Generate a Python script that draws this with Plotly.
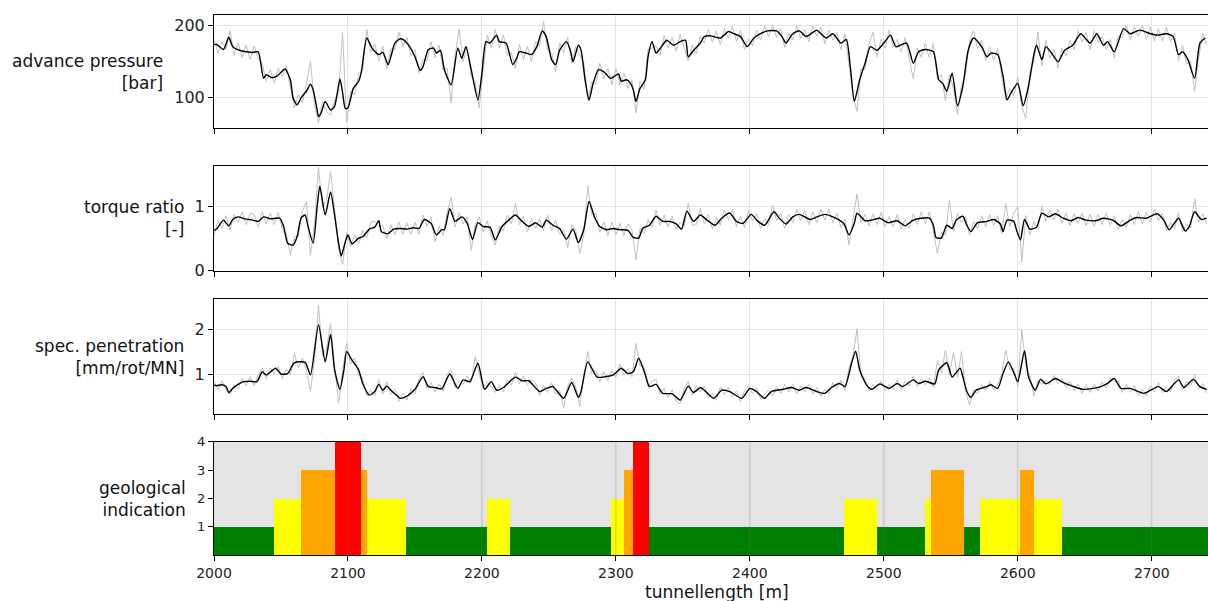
import plotly.graph_objects as go
from plotly.subplots import make_subplots

W, H = 1208, 601

# ---------------- data ----------------
# smoothed (black) curves: (tunnellength, value)
pressure_smooth = [(2000,173),(2002,173),(2007,166),(2011,183),(2014,170),(2019,165),(2024,163),(2029,162),(2033,163),
    (2037,126),(2039,131),(2043,127),(2047,129),(2053,139),(2057,124),(2059,99),(2062,89),(2065,99),(2068,106),(2069,108),
    (2072,118),(2074,110),(2077,82),(2078,73),(2080,78),(2083,94),(2087,82),(2090,87),(2094,125),(2096,106),(2098,84),
    (2100,85),(2104,112),(2108,122),(2110,135),(2114,182),(2118,168),(2123,159),(2126,162),(2130,145),(2135,175),(2139,181),
    (2141,180),(2146,170),(2150,156),(2154,137),(2156,142),(2160,166),(2164,168),(2166,161),(2169,165),(2172,138),(2177,117),
    (2182,168),(2185,154),(2188,170),(2192,138),(2197,96),(2200,133),(2203,177),(2206,175),(2211,186),(2213,177),(2218,175),
    (2223,145),(2226,154),(2228,163),(2233,161),(2237,159),(2241,170),(2245,192),(2248,184),(2252,152),(2255,145),(2258,165),
    (2263,177),(2266,165),(2268,149),(2272,172),(2274,165),(2277,124),(2280,96),(2283,119),(2287,138),(2291,135),(2296,126),
    (2299,129),(2302,132),(2304,122),(2308,124),(2311,119),(2313,110),(2315,94),(2318,112),(2322,124),(2324,156),(2327,177),
    (2330,161),(2334,170),(2338,179),(2343,172),(2348,177),(2352,179),(2354,156),(2358,165),(2363,175),(2366,184),(2371,185),
    (2378,182),(2384,191),(2388,188),(2393,184),(2398,170),(2403,182),(2408,188),(2413,192),(2420,192),(2424,184),(2427,175),
    (2432,188),(2437,192),(2442,184),(2450,193),(2453,188),(2457,182),(2462,188),(2468,175),(2472,180),(2475,142),(2478,94),
    (2482,124),(2486,147),(2490,170),(2495,165),(2500,175),(2505,186),(2509,170),(2517,175),(2522,147),(2526,163),(2531,166),
    (2537,163),(2541,124),(2544,119),(2547,108),(2551,133),(2555,88),(2559,115),(2563,165),(2567,182),(2573,170),(2577,156),
    (2580,161),(2585,159),(2589,129),(2592,96),(2595,106),(2600,119),(2604,88),(2608,115),(2612,159),(2614,172),(2618,152),
    (2621,170),(2626,159),(2630,149),(2635,165),(2641,172),(2647,188),(2654,175),(2659,188),(2664,172),(2667,177),(2672,163),
    (2679,195),(2684,188),(2691,193),(2699,188),(2704,186),(2711,188),(2716,184),(2720,159),(2723,163),(2727,152),(2732,126),
    (2736,175),(2740,182)]

torque_smooth = [(2000,0.63),(2002,0.65),(2007,0.79),(2011,0.70),(2014,0.80),(2018,0.84),(2023,0.81),(2029,0.79),(2033,0.77),
    (2037,0.84),(2042,0.81),(2049,0.82),(2052,0.69),(2055,0.43),(2059,0.40),(2062,0.53),(2065,0.82),(2068,0.87),(2070,0.71),
    (2074,0.43),(2077,1.00),(2079,1.32),(2083,0.87),(2087,1.23),(2090,0.87),(2093,0.43),(2095,0.23),(2098,0.45),(2100,0.56),
    (2103,0.42),(2108,0.51),(2111,0.53),(2116,0.65),(2120,0.68),(2123,0.78),(2125,0.61),(2130,0.58),(2134,0.65),(2139,0.66),
    (2144,0.65),(2149,0.67),(2153,0.66),(2157,0.80),(2162,0.74),(2166,0.56),(2170,0.64),(2172,0.64),(2176,0.97),(2180,0.77),
    (2185,0.84),(2189,0.74),(2193,0.49),(2197,0.75),(2201,0.69),(2206,0.68),(2210,0.48),(2215,0.69),(2220,0.79),(2225,0.87),
    (2230,0.77),(2235,0.69),(2240,0.75),(2245,0.68),(2248,0.79),(2253,0.71),(2258,0.66),(2263,0.49),(2268,0.65),(2272,0.44),
    (2276,0.64),(2280,1.08),(2284,0.84),(2288,0.69),(2293,0.64),(2298,0.66),(2303,0.64),(2309,0.63),(2313,0.52),(2317,0.51),
    (2320,0.66),(2325,0.71),(2330,0.85),(2335,0.77),(2340,0.77),(2345,0.73),(2349,0.65),(2353,0.93),(2358,0.77),(2363,0.87),
    (2368,0.79),(2374,0.71),(2379,0.82),(2385,0.90),(2390,0.77),(2395,0.74),(2401,0.88),(2406,0.77),(2411,0.71),(2418,0.92),
    (2422,0.82),(2427,0.73),(2432,0.84),(2437,0.88),(2445,0.80),(2450,0.84),(2456,0.88),(2462,0.84),(2470,0.74),(2474,0.56),
    (2478,0.74),(2480,0.90),(2486,0.78),(2491,0.79),(2497,0.82),(2503,0.75),(2510,0.78),(2516,0.70),(2522,0.79),(2528,0.82),
    (2534,0.82),(2537,0.71),(2539,0.52),(2543,0.51),(2547,0.71),(2551,0.66),(2554,0.79),(2559,0.85),(2562,0.71),(2565,0.61),
    (2570,0.75),(2577,0.77),(2582,0.80),(2587,0.73),(2589,0.61),(2592,0.79),(2597,0.77),(2599,0.64),(2602,0.48),(2605,0.80),
    (2609,0.65),(2614,0.68),(2618,0.90),(2623,0.84),(2628,0.89),(2634,0.82),(2640,0.78),(2645,0.83),(2651,0.79),(2658,0.78),
    (2664,0.82),(2671,0.79),(2677,0.70),(2684,0.79),(2689,0.83),(2696,0.82),(2704,0.89),(2709,0.79),(2713,0.64),(2720,0.82),
    (2725,0.62),(2728,0.69),(2732,0.92),(2737,0.80),(2741,0.82)]

penetration_smooth = [(2000,0.75),(2002,0.74),(2006,0.76),(2009,0.72),(2011,0.59),(2014,0.68),(2018,0.77),(2022,0.83),
    (2027,0.84),(2032,0.83),(2036,1.05),(2039,0.98),(2046,1.13),(2050,1.00),(2055,1.01),(2060,1.25),(2068,1.26),(2072,0.98),
    (2078,2.10),(2083,1.27),(2087,1.88),(2090,1.09),(2094,0.66),(2097,1.09),(2099,1.50),(2103,1.31),(2108,1.09),(2111,0.79),
    (2116,0.53),(2120,0.61),(2123,0.77),(2126,0.64),(2129,0.73),(2133,0.61),(2137,0.51),(2139,0.46),(2144,0.51),(2150,0.66),
    (2156,0.94),(2160,0.72),(2165,0.70),(2170,0.67),(2176,1.00),(2182,0.68),(2186,0.87),(2191,0.83),(2197,1.24),(2202,0.66),
    (2207,0.83),(2211,0.64),(2216,0.70),(2225,0.93),(2230,0.85),(2235,0.85),(2243,0.61),(2248,0.68),(2253,0.72),(2261,0.46),
    (2267,0.81),(2272,0.48),(2274,0.61),(2279,1.27),(2286,0.93),(2292,0.94),(2298,0.98),(2304,1.13),(2309,1.01),(2313,1.05),
    (2317,1.35),(2322,0.98),(2325,0.72),(2330,0.77),(2335,0.57),(2342,0.56),(2348,0.42),(2354,0.73),(2358,0.59),(2363,0.70),
    (2366,0.64),(2373,0.46),(2379,0.64),(2385,0.61),(2394,0.46),(2400,0.68),(2405,0.61),(2411,0.46),(2416,0.61),(2425,0.66),
    (2431,0.70),(2437,0.64),(2442,0.70),(2450,0.61),(2456,0.57),(2461,0.70),(2467,0.79),(2471,0.72),(2476,1.25),(2479,1.51),
    (2482,1.09),(2487,0.76),(2491,0.66),(2497,0.78),(2504,0.68),(2510,0.79),(2514,0.72),(2522,0.87),(2526,0.79),(2531,0.84),
    (2538,0.78),(2541,1.09),(2547,1.25),(2551,0.93),(2554,1.03),(2557,1.13),(2559,0.94),(2562,0.61),(2565,0.48),(2569,0.64),
    (2577,0.72),(2580,0.76),(2585,0.68),(2589,1.01),(2593,1.27),(2597,1.03),(2600,0.83),(2605,1.52),(2608,0.94),(2613,0.64),
    (2617,0.88),(2621,0.78),(2628,0.90),(2634,0.81),(2641,0.73),(2648,0.66),(2656,0.68),(2662,0.72),(2667,0.79),(2672,0.90),
    (2677,0.68),(2684,0.68),(2694,0.57),(2705,0.72),(2711,0.61),(2720,0.87),(2724,0.70),(2731,0.88),(2736,0.72),(2741,0.66)]

# raw (grey) measurements, every 3 m from 2000 m
raw_x = list(range(2000, 2742, 3))
pressure_raw = [
    181,161,177,166,192,158,176,155,172,152,
    171,153,146,122,138,119,140,128,144,116,
    85,103,92,118,150,90,64,94,80,74,
    96,105,190,65,108,104,132,138,194,162,
    174,150,171,139,167,166,190,170,183,157,
    166,133,152,150,177,155,172,138,140,92,
    158,195,149,171,128,122,85,138,186,168,
    194,168,186,158,162,140,173,152,171,149,
    177,171,205,166,162,135,175,162,183,147,
    170,158,148,95,121,118,147,125,140,117,
    140,117,133,112,124,78,122,111,166,168,
    171,158,185,168,183,164,187,168,150,172,
    160,185,175,194,176,192,173,195,182,198,
    177,193,166,181,171,193,179,199,184,200,
    183,195,169,189,179,199,181,194,177,199,
    184,197,174,193,179,190,166,188,146,102,
    80,140,138,174,190,156,180,168,193,169,
    180,163,183,155,125,168,155,175,155,175,
    125,131,95,131,112,76,117,131,178,192,
    167,179,151,169,151,168,128,98,112,102,
    128,87,70,135,150,190,143,179,154,166,
    140,168,157,179,166,192,177,190,166,192,
    176,184,166,180,154,186,182,200,179,198,
    184,200,181,197,178,195,178,197,177,189,
    150,172,146,150,108,154,188,173]
torque_raw = [
    .55,.77,.66,.86,.63,.88,.75,.92,.72,.90,
    .88,.68,.92,.73,.90,.72,.91,.64,.58,.25,
    .53,.54,.93,1.08,.24,.72,1.62,.98,1.10,1.55,
    .97,.34,.10,.60,.37,.56,.42,.63,.51,.76,
    .77,.69,.70,.50,.72,.56,.76,.57,.75,.57,
    .76,.57,.87,.69,.84,.45,.70,.55,.90,1.15,
    .68,.91,.73,.84,.32,.72,.84,.60,.78,.54,
    .40,.70,.62,.87,.73,1.05,.72,.85,.61,.82,
    .66,.81,.63,.87,.63,.79,.57,.64,.36,.72,
    .64,.27,.55,1.32,.87,.90,.60,.76,.55,.76,
    .56,.74,.55,.73,.64,.17,.66,.58,.80,.68,
    .95,.71,.87,.68,.85,.64,.76,.70,1.05,.71,
    .72,.97,.73,.88,.65,.83,.71,.95,.80,.95,
    .68,.85,.67,.94,.77,.89,.66,.81,.71,1.02,
    .78,.90,.66,.88,.75,.96,.78,.94,.72,.92,
    .75,.96,.79,.96,.75,.90,.67,.80,.40,.80,
    1.20,.75,.88,.70,.89,.72,.91,.68,.85,.68,
    .88,.65,.80,.66,.89,.72,.92,.73,.92,.62,
    .27,.60,.56,1.10,.61,.90,.75,.85,.55,.77,
    .66,.86,.68,.88,.71,.86,.58,1.05,.69,.90,
    1.00,.14,.86,.56,.77,.64,1.00,.77,.95,.79,
    .96,.74,.90,.70,.89,.74,.90,.70,.88,.69,
    .88,.72,.90,.71,.86,.64,.80,.67,.88,.72,
    .92,.73,.91,.76,.96,.78,.90,.63,.76,.65,
    .91,.61,.73,.66,1.12,.76,.89,.73]
penetration_raw = [
    .84,.65,.85,.65,.54,.76,.67,.90,.74,.94,
    .74,.98,1.14,.88,1.14,1.01,1.17,.90,1.11,.98,
    1.46,1.13,1.36,1.08,.62,1.30,2.53,1.40,1.58,2.12,
    1.22,.35,1.06,1.68,1.22,1.36,.97,.91,.52,.65,
    .51,.88,.55,.82,.54,.66,.39,.57,.42,.68,
    .56,.90,1.04,.68,.81,.60,.78,.62,.99,1.10,
    .69,.84,.77,.96,.80,1.39,1.00,.68,.83,.73,
    .59,.76,.60,.88,.75,1.04,.78,.96,.75,.89,
    .80,.51,.75,.59,.81,.55,.64,.24,.73,.91,
    .72,.27,.96,1.50,1.01,1.09,.83,1.05,.85,1.08,
    .93,1.22,.97,1.12,.94,1.68,1.18,1.16,.71,.84,
    .88,.55,.67,.47,.65,.40,.34,.68,.84,.53,
    .74,.60,.74,.47,.57,.42,.71,.54,.71,.49,
    .62,.38,.62,.74,.56,.70,.45,.54,.64,.52,
    .72,.56,.77,.60,.78,.56,.74,.60,.77,.55,
    .70,.50,.66,.56,.81,.67,.86,.63,1.14,1.40,
    2.01,.94,.90,.62,.77,.65,.85,.63,.77,.65,
    .88,.65,.85,.73,.96,.72,.90,.75,.90,.70,
    1.30,1.02,1.53,.98,1.48,.92,1.50,.62,.31,.65,
    .56,.77,.62,.84,.64,.77,1.00,1.53,1.10,1.12,
    .73,1.98,1.20,.97,.50,.85,.77,.87,.76,.97,
    .78,.91,.70,.84,.63,.78,.57,.76,.59,.77,
    .62,.82,.69,.92,.81,.86,.59,.77,.59,.74,
    .52,.67,.51,.74,.60,.81,.58,.70,.61,.88,
    .96,.65,.84,.73,.98,.66,.79,.57]

# geological indication segments
geo_start = [2000, 2045, 2065, 2090, 2110, 2114, 2143, 2204, 2221, 2296, 2306, 2313, 2325,
             2470, 2495, 2531, 2535, 2560, 2572, 2601.5, 2612, 2633]
geo_end = geo_start[1:] + [2750]
geo_level = [1, 2, 3, 4, 3, 2, 1, 2, 1, 2, 3, 4, 1, 2, 1, 2, 3, 1, 2, 3, 2, 1]
level_colors = {1: "#008000", 2: "#ffff00", 3: "#ffa500", 4: "#ff0000"}

x_ticks = [2000, 2100, 2200, 2300, 2400, 2500, 2600, 2700]

panel_titles = ["advance pressure<br>[bar]", "torque ratio<br>[-]",
                "spec. penetration<br>[mm/rot/MN]", "geological<br>indication"]

# ---------------- figure ----------------
FONT = "DejaVu Sans"
fig = make_subplots(rows=4, cols=1, shared_xaxes=False)

series = [(pressure_raw, pressure_smooth), (torque_raw, torque_smooth), (penetration_raw, penetration_smooth)]
for i, (raw, smooth) in enumerate(series, start=1):
    n = min(len(raw_x), len(raw))
    fig.add_trace(go.Scatter(x=raw_x[:n], y=raw[:n], mode="lines",
                             line=dict(color="#c0c0c0", width=1), hoverinfo="skip"), row=i, col=1)
    sx = [p[0] for p in smooth]
    sy = [p[1] for p in smooth]
    fig.add_trace(go.Scatter(x=sx, y=sy, mode="lines",
                             line=dict(color="black", width=1.4, shape="spline", smoothing=0.6),
                             hoverinfo="skip"), row=i, col=1)

centers = [(a + b) / 2 for a, b in zip(geo_start, geo_end)]
widths = [b - a for a, b in zip(geo_start, geo_end)]
fig.add_trace(go.Bar(x=centers, y=geo_level, width=widths,
                     marker=dict(color=[level_colors[l] for l in geo_level], line=dict(width=0)),
                     hoverinfo="skip"), row=4, col=1)

# pixel-based layout
def yd(top, bottom):
    return [1 - bottom / H, 1 - top / H]

x_dom = [214 / W, 1.0]
panels = [(15, 128), (165.7, 270.7), (299, 414), (441.7, 555.3)]
y_ranges = [[57, 214], [0, 1.64], [0.11, 2.67], [0, 4]]
y_ticks = [[100, 200], [0, 1], [1, 2], [1, 2, 3, 4]]
x_range = [2000, 2742]

for i in range(4):
    last = (i == 3)
    xa = dict(domain=x_dom, range=x_range, tickvals=x_ticks, showticklabels=last,
              ticks="outside", ticklen=5, tickcolor="black", automargin=False,
              showline=True, linecolor="black", linewidth=1, mirror=True,
              showgrid=not last, gridcolor="#e4e4e4", gridwidth=1, zeroline=False,
              tickfont=dict(family=FONT, size=14, color="#222"))
    ya = dict(domain=yd(*panels[i]), range=y_ranges[i], tickvals=y_ticks[i],
              ticks="outside", ticklen=5, tickcolor="black", automargin=False,
              showline=True, linecolor="black", linewidth=1, mirror=False,
              showgrid=not last, gridcolor="#e4e4e4", gridwidth=1, zeroline=False,
              tickfont=dict(family=FONT, size=13 if last else 16, color="#222"))
    fig.update_xaxes(xa, row=i + 1, col=1)
    fig.update_yaxes(ya, row=i + 1, col=1)

# grey background of geological panel
fig.add_shape(type="rect", xref="x4 domain", yref="y4 domain", x0=0, x1=1, y0=0, y1=1,
              fillcolor="#e4e4e4", line=dict(width=0), layer="below")
# vertical grid lines drawn over the bars
for t in x_ticks[1:]:
    fig.add_shape(type="line", xref="x4", yref="y4 domain", x0=t, x1=t, y0=0, y1=1,
                  line=dict(color="rgba(110,110,110,0.3)", width=1), layer="above")

# axis titles (horizontal, right aligned)
title_right = [165, 186, 186, 188]
for i, (txt, (top, bottom)) in enumerate(zip(panel_titles, panels)):
    fig.add_annotation(text=txt, xref="paper", yref="paper",
                       x=title_right[i] / W, y=1 - (top + bottom) / 2 / H,
                       xanchor="right", yanchor="middle", align="right", showarrow=False,
                       font=dict(family=FONT, size=17, color="#111"))

fig.add_annotation(text="tunnellength [m]", xref="paper", yref="paper",
                   x=717 / W, y=1 - 592 / H, xanchor="center", yanchor="middle",
                   showarrow=False, font=dict(family=FONT, size=17, color="#111"))

fig.update_layout(width=W, height=H,
                  margin=dict(l=0, r=0, t=0, b=0, pad=0, autoexpand=False),
                  paper_bgcolor="white", plot_bgcolor="white", showlegend=False,
                  bargap=0, font=dict(family=FONT))

fig.write_html("out.html", config={"displayModeBar": False},
               post_script="document.body.style.margin='0px';document.body.style.overflow='hidden';")
